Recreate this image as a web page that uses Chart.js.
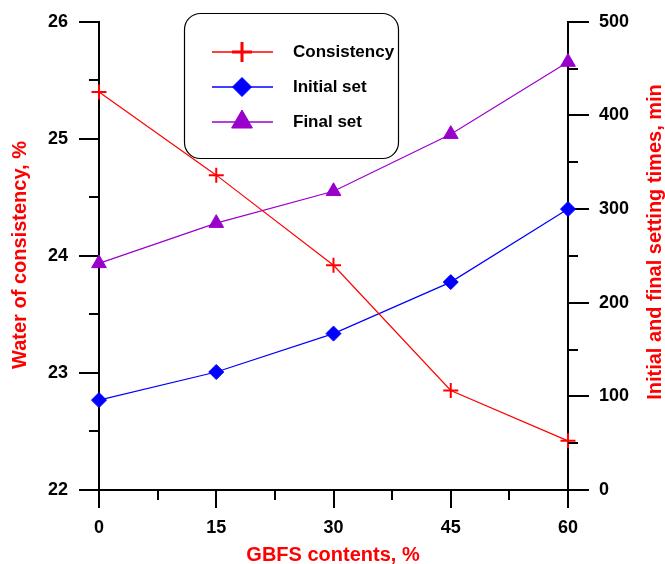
<!DOCTYPE html>
<html>
<head>
<meta charset="utf-8">
<title>GBFS contents</title>
<script src="https://cdn.jsdelivr.net/npm/chart.js@4/dist/chart.umd.min.js"></script>
<style>
  html, body { margin: 0; padding: 0; background: #fff; }
  canvas { display: block; }
</style>
</head>
<body>
<canvas id="chart" width="665" height="564"></canvas>
<script>
const gbfs = [0, 15, 30, 45, 60];
const consistency = [25.40, 24.69, 23.92, 22.85, 22.42];
const initialSet = [96, 126, 167, 222, 300];
const finalSet = [242, 285, 319, 380, 457];

const gbfsTicks = [0, 15, 30, 45, 60];
const waterTicks = [22, 23, 24, 25, 26];
const timeTicks = [0, 100, 200, 300, 400, 500];

// half-step ticks without labels
const gbfsMinor = [7.5, 22.5, 37.5, 52.5];
const waterMinor = [22.5, 23.5, 24.5, 25.5];
const timeMinor = [50, 150, 250, 350, 450];

const FONT = '"Liberation Sans", Arial, sans-serif';
const RED = '#ff0000';
const BLUE = '#0000ff';
const PURPLE = '#9900cc';

const toXY = (ys) => gbfs.map((x, i) => ({ x: x, y: ys[i] }));
const fixedTicks = (list) => (scale) => { scale.ticks = list.map(v => ({ value: v })); };

const tickFont = { family: FONT, size: 18, weight: 'bold' };

// minor ticks, axis titles and the boxed legend
const extras = {
  id: 'extras',
  afterDraw(chart) {
    const ctx = chart.ctx;
    const { x, y, y1 } = chart.scales;
    const area = chart.chartArea;

    ctx.save();
    ctx.strokeStyle = '#000';
    ctx.lineWidth = 2;
    ctx.beginPath();
    waterMinor.forEach(v => {
      const p = Math.round(y.getPixelForValue(v));
      ctx.moveTo(area.left - 10, p); ctx.lineTo(area.left, p);
    });
    timeMinor.forEach(v => {
      const p = Math.round(y1.getPixelForValue(v));
      ctx.moveTo(area.right, p); ctx.lineTo(area.right + 10, p);
    });
    gbfsMinor.forEach(v => {
      const p = Math.round(x.getPixelForValue(v));
      ctx.moveTo(p, area.bottom); ctx.lineTo(p, area.bottom + 10);
    });
    ctx.stroke();

    // axis titles
    ctx.fillStyle = RED;
    ctx.font = 'bold 20px ' + FONT;
    ctx.textAlign = 'center';
    ctx.textBaseline = 'middle';
    ctx.fillText('GBFS contents, %', 333, 555);

    ctx.save();
    ctx.translate(20, 255);
    ctx.rotate(-Math.PI / 2);
    ctx.fillText('Water of consistency, %', 0, 0);
    ctx.restore();

    ctx.save();
    ctx.translate(655, 242);
    ctx.rotate(-Math.PI / 2);
    ctx.fillText('Initial and final setting times, min', 0, 0);
    ctx.restore();

    // legend
    ctx.strokeStyle = '#000';
    ctx.lineWidth = 1.2;
    ctx.beginPath();
    ctx.roundRect(184.5, 13.5, 214, 145, 16);
    ctx.stroke();

    const rows = [52, 87, 122];
    const sizes = [10, 9.5, 12];
    chart.data.datasets.forEach((ds, i) => {
      const ry = rows[i];
      ctx.strokeStyle = ds.borderColor;
      ctx.lineWidth = 2;
      ctx.globalAlpha = 0.75;
      ctx.beginPath();
      ctx.moveTo(212, ry); ctx.lineTo(273, ry);
      ctx.stroke();
      ctx.globalAlpha = 1;
      ctx.fillStyle = ds.pointBackgroundColor;
      ctx.strokeStyle = ds.pointBorderColor;
      ctx.lineWidth = ds.pointStyle === 'cross' ? 3 : 1;
      Chart.helpers.drawPoint(ctx, {
        pointStyle: ds.pointStyle,
        radius: sizes[i],
        rotation: 0,
        borderWidth: ctx.lineWidth
      }, 242, ry);

      ctx.fillStyle = '#000';
      ctx.font = 'bold 17px ' + FONT;
      ctx.textAlign = 'left';
      ctx.textBaseline = 'middle';
      ctx.fillText(ds.label, 293, ry);
    });
    ctx.restore();
  }
};

new Chart(document.getElementById('chart'), {
  type: 'line',
  data: {
    datasets: [
      {
        label: 'Consistency',
        data: toXY(consistency),
        yAxisID: 'y',
        borderColor: RED,
        borderWidth: 1.2,
        pointStyle: 'cross',
        pointRadius: 7.5,
        pointBorderWidth: 2,
        pointBorderColor: RED,
        pointBackgroundColor: RED,
        clip: false
      },
      {
        label: 'Initial set',
        data: toXY(initialSet),
        yAxisID: 'y1',
        borderColor: BLUE,
        borderWidth: 1.2,
        pointStyle: 'rectRot',
        pointRadius: 7.5,
        pointBorderWidth: 1,
        pointBorderColor: BLUE,
        pointBackgroundColor: BLUE,
        clip: false
      },
      {
        label: 'Final set',
        data: toXY(finalSet),
        yAxisID: 'y1',
        borderColor: PURPLE,
        borderWidth: 1.2,
        pointStyle: 'triangle',
        pointRadius: 8.5,
        pointBorderWidth: 1,
        pointBorderColor: PURPLE,
        pointBackgroundColor: PURPLE,
        clip: false
      }
    ]
  },
  options: {
    responsive: false,
    animation: false,
    devicePixelRatio: 1,
    layout: { padding: { top: 20, left: 0, right: 0, bottom: 0 } },
    plugins: {
      legend: { display: false },
      tooltip: { enabled: false }
    },
    elements: { line: { tension: 0 } },
    scales: {
      x: {
        type: 'linear',
        position: 'bottom',
        min: 0,
        max: 60,
        afterBuildTicks: fixedTicks(gbfsTicks),
        afterFit: (s) => { s.height = 74; },
        grid: { drawOnChartArea: false, color: '#000', tickLength: 18, lineWidth: 2 },
        border: { color: '#000', width: 2 },
        ticks: { color: '#000', font: tickFont, padding: 9, maxRotation: 0 }
      },
      y: {
        type: 'linear',
        position: 'left',
        min: 22,
        max: 26,
        afterBuildTicks: fixedTicks(waterTicks),
        afterFit: (s) => { s.width = 99; },
        grid: { drawOnChartArea: false, color: '#000', tickLength: 20, lineWidth: 2 },
        border: { color: '#000', width: 2 },
        ticks: { color: '#000', font: tickFont, padding: 11 }
      },
      y1: {
        type: 'linear',
        position: 'right',
        min: 0,
        max: 500,
        afterBuildTicks: fixedTicks(timeTicks),
        afterFit: (s) => { s.width = 97; },
        grid: { drawOnChartArea: false, color: '#000', tickLength: 21, lineWidth: 2 },
        border: { color: '#000', width: 2 },
        ticks: { color: '#000', font: tickFont, padding: 10 }
      }
    }
  },
  plugins: [extras]
});
</script>
</body>
</html>
